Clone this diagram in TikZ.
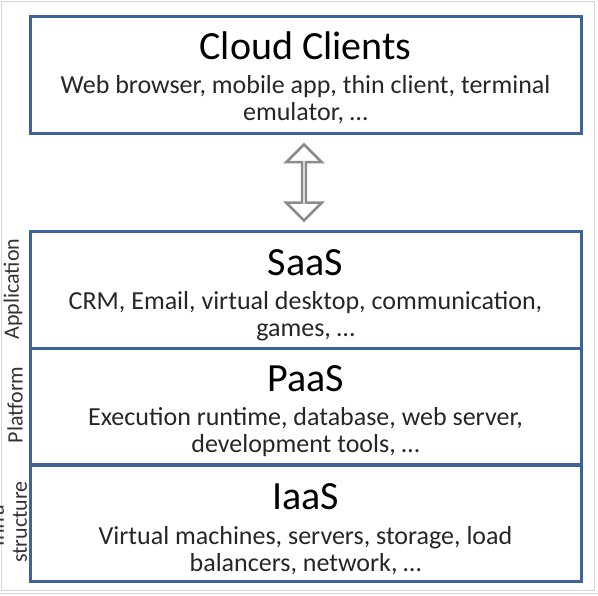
\documentclass[tikz,border=0pt]{standalone}
\usepackage{fontspec}
\setmainfont{Carlito}
\usetikzlibrary{shapes.arrows}

\definecolor{layerblue}{RGB}{60,100,150}
\definecolor{framegray}{RGB}{215,215,215}

\tikzset{
  layer/.style={draw=layerblue, line width=3pt, minimum width=551pt, minimum height=116.5pt, inner sep=0pt},
  heading/.style={anchor=base, font=\fontsize{40}{48}\selectfont, inner sep=0pt},
  detail/.style={anchor=base, align=center, font=\fontsize{26}{27}\selectfont, text=black!85, inner sep=0pt},
  sidelabel/.style={rotate=90, align=center, font=\fontsize{22}{23}\selectfont, text=black!80, inner sep=0pt}
}

\begin{document}
\begin{tikzpicture}[x=1pt,y=-1pt]

  \useasboundingbox (0,0) rectangle (598,596);
  \draw[framegray, line width=1pt] (1.5,1.5) rectangle (594,590);
  \draw[framegray, line width=1pt] (0,593) -- (598,593);

  % clients on top
  \node[layer] (clients) at (305.5,75) {};
  \node[heading] (clientstitle) at (305.5,60) {Cloud Clients};
  \node[detail] (clientstext) at (305.5,121) {Web browser, mobile app, thin client, terminal\\emulator, \dots};

  % the three layers
  \node[layer] (saas) at (305.5,290) {};
  \node[layer] (paas) at (305.5,406.5) {};
  \node[layer] (iaas) at (305.5,523.5) {};

  \node[heading] (saastitle) at (305.5,276) {SaaS};
  \node[detail] (saastext) at (305.5,337) {CRM, Email, virtual desktop, communication,\\games, \dots};
  \node[heading] (paastitle) at (305.5,392) {PaaS};
  \node[detail] (paastext) at (305.5,453) {Execution runtime, database, web server,\\development tools, \dots};
  \node[heading] (iaastitle) at (305.5,510) {IaaS};
  \node[detail] (iaastext) at (305.5,571) {Virtual machines, servers, storage, load\\balancers, network, \dots};

  \node[sidelabel] (app) at (13,289) {Application};
  \node[sidelabel] (plat) at (15,405) {Platform};
  \node[sidelabel] (infra) at (8,522) {Infra-\\structure};

  % link between clients and cloud
  \node[double arrow, draw=gray!90, line width=2.5pt, fill=white, minimum height=76pt, minimum width=35.5pt,
        double arrow head extend=10.5pt, inner sep=0pt, rotate=90] (link) at (304,182.5) {};

\end{tikzpicture}
\end{document}
